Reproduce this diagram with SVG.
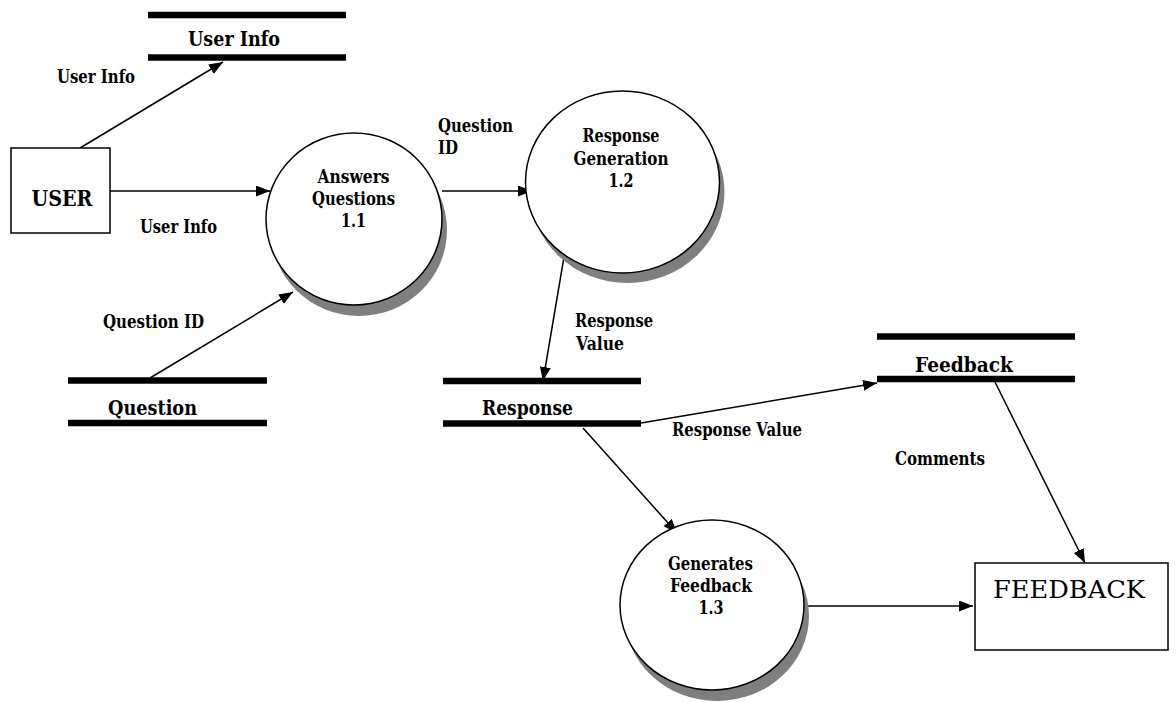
<svg xmlns="http://www.w3.org/2000/svg" width="1176" height="702" viewBox="0 0 1176 702">
  <style>
    text { font-family: "DejaVu Serif", "Liberation Serif", serif; fill: #000; }
    .lbl { font-size: 18px; font-weight: bold; }
    .proc { font-size: 18px; font-weight: bold; text-anchor: middle; }
    .store-name { font-size: 20px; font-weight: bold; text-anchor: middle; }
    .bar { stroke: #000; stroke-width: 6.5; }
    .ent { fill: #fff; stroke: #000; stroke-width: 1.5; }
    .bubble { fill: #fff; stroke: #000; stroke-width: 1.5; }
    .shadow { fill: #7f7f7f; }
    .flow { fill: none; stroke: #000; stroke-width: 1.5; marker-end: url(#arrow); }
  </style>
  <defs>
    <marker id="arrow" markerUnits="userSpaceOnUse" markerWidth="15" markerHeight="12" refX="14" refY="5.5" orient="auto">
      <path d="M0,0 L14,5.5 L0,11 Z" fill="#000"/>
    </marker>
  </defs>
  <rect width="1176" height="702" fill="#fff"/>

  <!-- data flows -->
  <g id="connectors">
    <line class="flow" x1="80" y1="148" x2="223" y2="62"/>
    <line class="flow" x1="110" y1="191" x2="270" y2="191"/>
    <line class="flow" x1="150" y1="378" x2="293" y2="292"/>
    <line class="flow" x1="442" y1="191" x2="532" y2="191"/>
    <line class="flow" x1="565" y1="251" x2="543" y2="381"/>
    <line class="flow" x1="641" y1="423" x2="877" y2="383"/>
    <line class="flow" x1="583" y1="428" x2="677" y2="533"/>
    <line class="flow" x1="804" y1="606" x2="973" y2="606"/>
    <line class="flow" x1="995" y1="382" x2="1085" y2="563"/>
  </g>

  <!-- flow labels (glyphs narrowed to the Times-like widths) -->
  <g id="flow-labels">
    <text class="lbl" x="57" y="83" textLength="78" lengthAdjust="spacingAndGlyphs">User Info</text>
    <text class="lbl" x="140" y="233" textLength="77" lengthAdjust="spacingAndGlyphs">User Info</text>
    <text class="lbl" x="103" y="328" textLength="101" lengthAdjust="spacingAndGlyphs">Question ID</text>
    <text class="lbl" x="438" y="132" textLength="75" lengthAdjust="spacingAndGlyphs">Question</text>
    <text class="lbl" x="438" y="154" textLength="20" lengthAdjust="spacingAndGlyphs">ID</text>
    <text class="lbl" x="575" y="327" textLength="78" lengthAdjust="spacingAndGlyphs">Response</text>
    <text class="lbl" x="576" y="350" textLength="48" lengthAdjust="spacingAndGlyphs">Value</text>
    <text class="lbl" x="672" y="436" textLength="130" lengthAdjust="spacingAndGlyphs">Response Value</text>
    <text class="lbl" x="895" y="465" textLength="90" lengthAdjust="spacingAndGlyphs">Comments</text>
  </g>

  <!-- external entities -->
  <g id="user">
    <rect class="ent" x="11" y="148" width="99" height="85"/>
    <text x="62" y="206" font-size="22" font-weight="bold" text-anchor="middle" textLength="61" lengthAdjust="spacingAndGlyphs">USER</text>
  </g>
  <g id="feedback-entity">
    <rect class="ent" x="975" y="563" width="193" height="87"/>
    <text x="1069" y="598" font-size="25" text-anchor="middle" textLength="152" lengthAdjust="spacingAndGlyphs">FEEDBACK</text>
  </g>

  <!-- data stores -->
  <g id="store-user-info">
    <line class="bar" x1="148" y1="15" x2="346" y2="15"/>
    <line class="bar" x1="148" y1="57.5" x2="346" y2="57.5"/>
    <text class="store-name" x="234" y="46" textLength="92" lengthAdjust="spacingAndGlyphs">User Info</text>
  </g>
  <g id="store-question">
    <line class="bar" x1="68" y1="380.5" x2="267" y2="380.5"/>
    <line class="bar" x1="68" y1="423" x2="267" y2="423"/>
    <text class="store-name" x="152.5" y="415" textLength="89" lengthAdjust="spacingAndGlyphs">Question</text>
  </g>
  <g id="store-response">
    <line class="bar" x1="443" y1="381" x2="641" y2="381"/>
    <line class="bar" x1="443" y1="423.5" x2="641" y2="423.5"/>
    <text class="store-name" x="527.5" y="415" textLength="91" lengthAdjust="spacingAndGlyphs">Response</text>
  </g>
  <g id="store-feedback">
    <line class="bar" x1="877" y1="336.5" x2="1075" y2="336.5"/>
    <line class="bar" x1="877" y1="379" x2="1075" y2="379"/>
    <text class="store-name" x="964" y="372" textLength="98" lengthAdjust="spacingAndGlyphs">Feedback</text>
  </g>

  <!-- processes -->
  <g id="proc-1-1">
    <ellipse class="shadow" cx="359" cy="230" rx="88" ry="86"/>
    <ellipse class="bubble" cx="354" cy="219" rx="88" ry="86"/>
    <text class="proc" x="353.5" y="183" textLength="72" lengthAdjust="spacingAndGlyphs">Answers</text>
    <text class="proc" x="353.5" y="205" textLength="83" lengthAdjust="spacingAndGlyphs">Questions</text>
    <text class="proc" x="353.5" y="227" textLength="25" lengthAdjust="spacingAndGlyphs">1.1</text>
  </g>
  <g id="proc-1-2">
    <ellipse class="shadow" cx="627.5" cy="192" rx="97" ry="91"/>
    <ellipse class="bubble" cx="622.5" cy="182" rx="97" ry="91"/>
    <text class="proc" x="621" y="142" textLength="77" lengthAdjust="spacingAndGlyphs">Response</text>
    <text class="proc" x="621" y="165" textLength="95" lengthAdjust="spacingAndGlyphs">Generation</text>
    <text class="proc" x="621" y="187" textLength="25" lengthAdjust="spacingAndGlyphs">1.2</text>
  </g>
  <g id="proc-1-3">
    <ellipse class="shadow" cx="717" cy="616" rx="92" ry="85"/>
    <ellipse class="bubble" cx="712" cy="605" rx="92" ry="85"/>
    <text class="proc" x="710.5" y="570" textLength="85" lengthAdjust="spacingAndGlyphs">Generates</text>
    <text class="proc" x="711" y="592" textLength="82" lengthAdjust="spacingAndGlyphs">Feedback</text>
    <text class="proc" x="711" y="614" textLength="25" lengthAdjust="spacingAndGlyphs">1.3</text>
  </g>
</svg>
